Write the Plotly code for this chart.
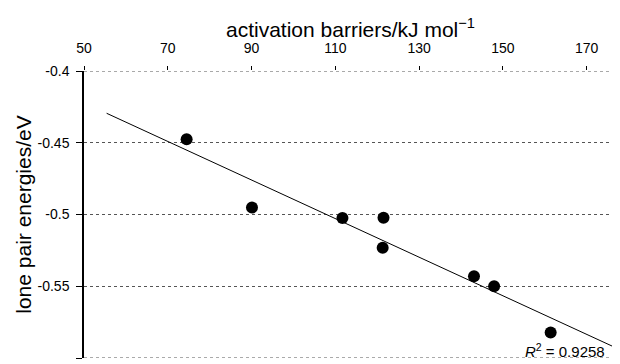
import numpy as np
import plotly.graph_objects as go

# Data
activation_barriers = [74.5, 90.1, 111.7, 121.5, 121.3, 143.1, 147.9, 161.4]
lone_pair_energies = [-0.4476, -0.4952, -0.5024, -0.5022, -0.5231, -0.5431, -0.5500, -0.5823]
trend_x_extent = [55.4, 177.5]
r2_label = "<i>R</i><sup>2</sup> = 0.9258"
x_title = "activation barriers/kJ mol<sup>−1</sup>"
y_title = "lone pair energies/eV"

x_tickvals = [50, 70, 90, 110, 130, 150, 170]
y_tickvals = [-0.6, -0.55, -0.5, -0.45, -0.4]
y_ticktext = ["-0.6", "-0.55", "-0.5", "-0.45", "-0.4"]

slope, intercept = np.polyfit(activation_barriers, lone_pair_energies, 1)
tx = np.array(trend_x_extent)
ty = slope * tx + intercept

FONT = "Liberation Sans, Arial, sans-serif"
GRID = dict(color="#555", width=1, dash="dot")

fig = go.Figure()
# edge gridlines (plotly drops gridlines that sit exactly on the range ends)
for v in (y_tickvals[0], y_tickvals[-1]):
    fig.add_hline(y=v, line=GRID, layer="below")

fig.add_trace(go.Scatter(x=tx, y=ty, mode="lines",
                         line=dict(color="black", width=1), showlegend=False))
fig.add_trace(go.Scatter(x=activation_barriers, y=lone_pair_energies, mode="markers",
                         marker=dict(color="black", size=12), showlegend=False))

fig.add_annotation(x=174.8, y=-0.5946, xref="x", yref="y", text=r2_label,
                   showarrow=False, xanchor="right", yanchor="middle",
                   font=dict(size=15, color="black", family=FONT))

fig.add_annotation(x=0.5, y=1, xref="paper", yref="paper", text=x_title,
                   showarrow=False, xanchor="center", yanchor="middle", yshift=43,
                   font=dict(size=21, color="black", family=FONT))

fig.update_layout(
    width=612, height=356,
    margin=dict(l=76, r=4, t=63, b=6),
    paper_bgcolor="white", plot_bgcolor="white",
    font=dict(family=FONT, color="black", size=14),
    xaxis=dict(side="top", range=[50, 177], tickvals=x_tickvals, automargin=False,
               showgrid=False, zeroline=False, showline=False,
               ticks="outside", ticklen=4, tickcolor="black",
               ticklabelstandoff=7,
               tickfont=dict(size=14)),
    yaxis=dict(range=[-0.6, -0.4], tickvals=y_tickvals, ticktext=y_ticktext, automargin=False,
               showgrid=True, gridcolor="#555", griddash="dot", gridwidth=1,
               zeroline=False, showline=True, linecolor="black", linewidth=1.5,
               ticks="outside", ticklen=6, tickcolor="black",
               ticklabelstandoff=4,
               tickfont=dict(size=14),
               title=dict(text=y_title, font=dict(size=21), standoff=0)),
)

fig.write_html("out.html")
